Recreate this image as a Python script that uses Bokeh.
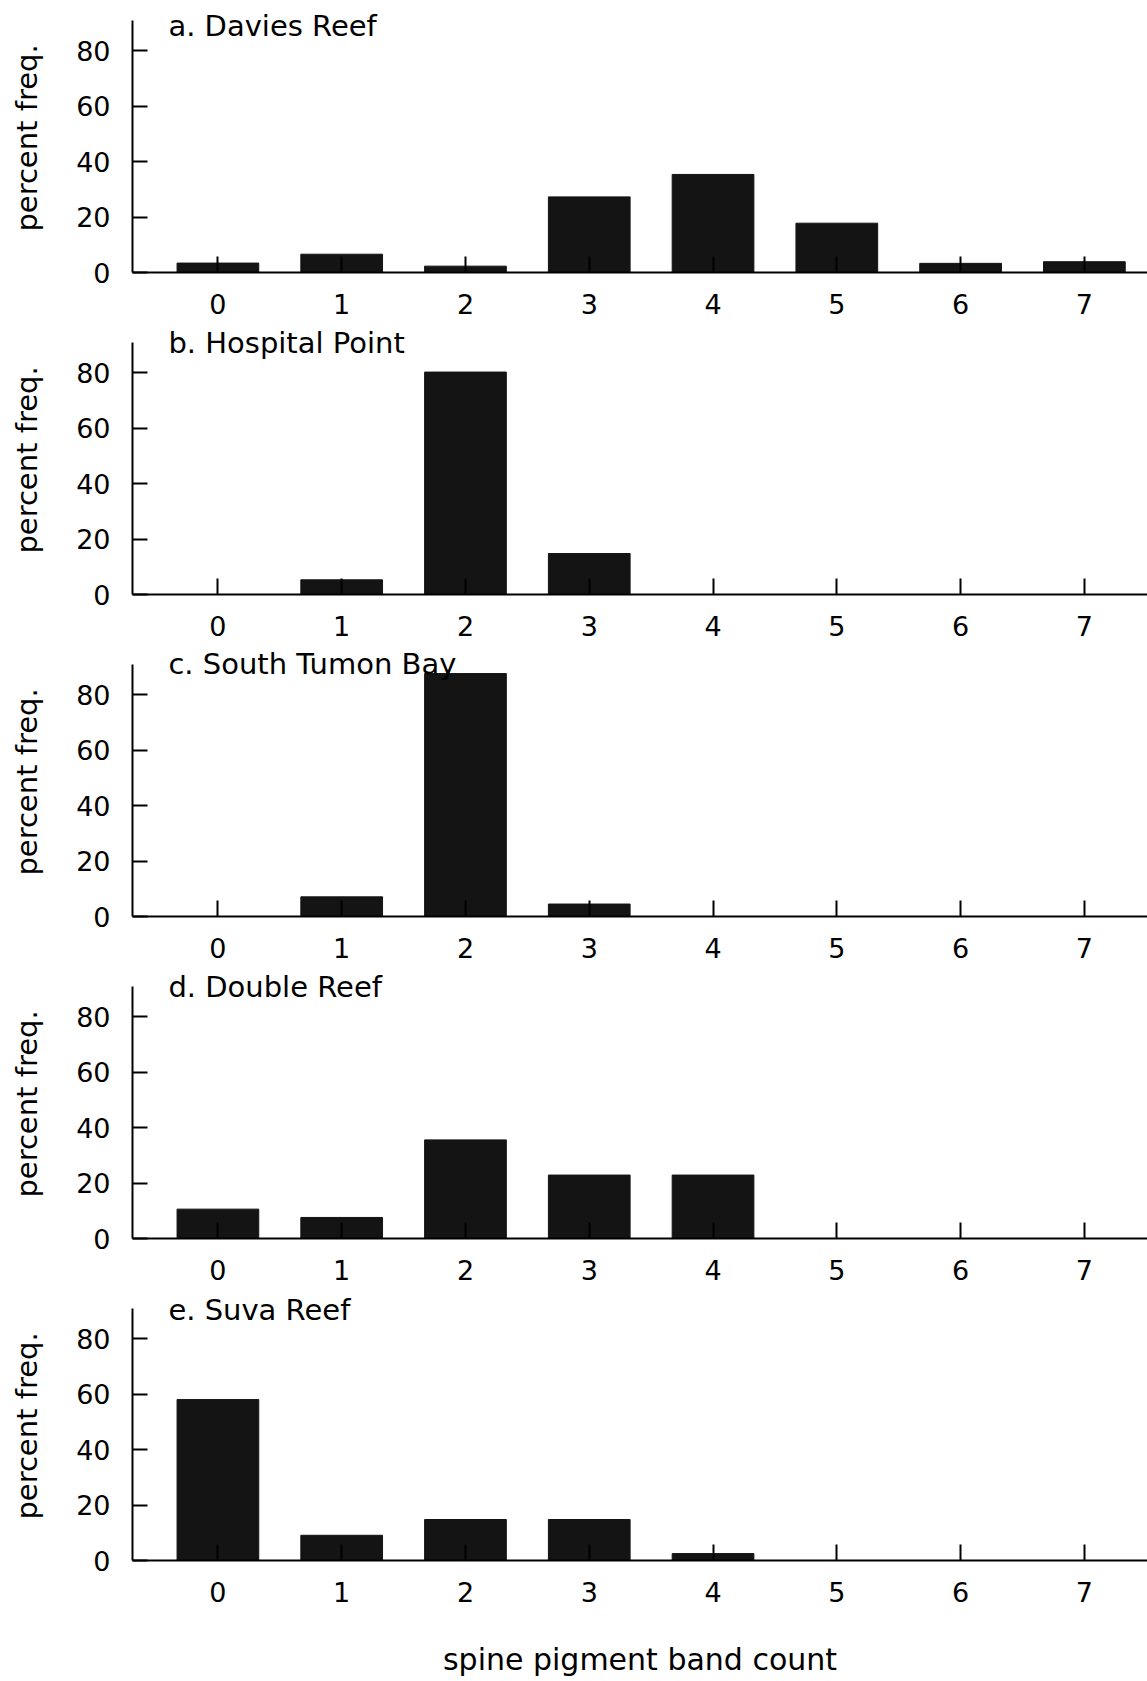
from bokeh.plotting import figure
from bokeh.models import Range1d, ColumnDataSource, Label, FixedTicker
from bokeh.layouts import column
from bokeh.embed import file_html
from bokeh.resources import INLINE

# ---- data ----
band_counts = [0, 1, 2, 3, 4, 5, 6, 7]
tick_labels = ["0", "1", "2", "3", "4", "5", "6", "7"]
y_ticks = [0, 20, 40, 60, 80]

panel_titles = ["a. Davies Reef", "b. Hospital Point", "c. South Tumon Bay",
                "d. Double Reef", "e. Suva Reef"]
davies_reef = [3.4, 6.6, 2.3, 27.3, 35.4, 17.8, 3.3, 3.9]
hospital_point = [0, 5.3, 80.3, 14.8, 0, 0, 0, 0]
south_tumon_bay = [0, 7.1, 87.7, 4.5, 0, 0, 0, 0]
double_reef = [10.6, 7.6, 35.6, 22.9, 22.9, 0, 0, 0]
suva_reef = [58.1, 9.1, 14.8, 14.8, 2.5, 0, 0, 0]
series = [davies_reef, hospital_point, south_tumon_bay, double_reef, suva_reef]

y_label = "percent freq."
x_label = "spine pigment band count"

# ---- styling / layout ----
FONT = "DejaVu Sans"
INK = "#141414"
PX_PER_UNIT = 2.77
FRAME_H = 269
AXIS_TOP = 91
title_y = [89.0, 90.8, 91.0, 90.8, 90.6]   # label anchor heights (layout only)

figs = []
n = len(series)
for i, (title, vals) in enumerate(zip(panel_titles, series)):
    first = i == 0
    last = i == n - 1
    top_b = 3 if first else 0
    bot_b = 121 if last else 53
    h = top_b + FRAME_H + bot_b
    p = figure(width=1147, height=h, output_backend="svg", toolbar_location=None,
               x_range=Range1d(-0.69, 7.51),
               y_range=Range1d(0, FRAME_H / PX_PER_UNIT),
               min_border_left=132, min_border_right=0, min_border_top=top_b,
               min_border_bottom=bot_b,
               background_fill_color="white", border_fill_color="white")
    p.outline_line_color = None
    p.xgrid.grid_line_color = None
    p.ygrid.grid_line_color = None

    xs = [x for x, v in zip(band_counts, vals) if v > 0]
    tops = [v for v in vals if v > 0]
    src = ColumnDataSource(data=dict(x=xs, top=tops))
    p.vbar(x="x", top="top", bottom=0, width=0.66, source=src,
           fill_color=INK, line_color=INK, line_width=1)

    # x axis
    xa = p.xaxis[0]
    xa.ticker = FixedTicker(ticks=band_counts)
    xa.major_label_overrides = {x: t for x, t in zip(band_counts, tick_labels)}
    xa.major_tick_in = 16
    xa.major_tick_out = 0
    xa.minor_tick_line_color = None
    xa.axis_line_width = 2
    xa.major_tick_line_width = 2
    xa.axis_line_color = "black"
    xa.major_tick_line_color = "black"
    xa.major_label_standoff = 21
    xa.major_label_text_font = FONT
    xa.major_label_text_font_size = "27px"
    xa.major_label_text_color = "black"
    if last:
        xa.axis_label = x_label
        xa.axis_label_text_font = FONT
        xa.axis_label_text_font_size = "30px"
        xa.axis_label_text_font_style = "normal"
        xa.axis_label_text_color = "black"
        xa.axis_label_standoff = 37

    # y axis
    ya = p.yaxis[0]
    ya.bounds = (0, AXIS_TOP)
    ya.ticker = FixedTicker(ticks=y_ticks)
    ya.major_tick_in = 15
    ya.major_tick_out = 0
    ya.minor_tick_line_color = None
    ya.axis_line_width = 2
    ya.major_tick_line_width = 2
    ya.axis_line_color = "black"
    ya.major_tick_line_color = "black"
    ya.major_label_standoff = 22
    ya.major_label_text_font = FONT
    ya.major_label_text_font_size = "27px"
    ya.major_label_text_color = "black"
    ya.axis_label = y_label
    ya.axis_label_text_font = FONT
    ya.axis_label_text_font_size = "29px"
    ya.axis_label_text_font_style = "normal"
    ya.axis_label_text_color = "black"
    ya.axis_label_standoff = 29

    p.add_layout(Label(x=-0.40, y=title_y[i], text=title, text_font=FONT,
                       text_font_size="29px", text_color="black",
                       text_baseline="alphabetic", text_align="left"))
    figs.append(p)

layout = column(*figs)
open("out.html", "w").write(file_html(layout, INLINE))
